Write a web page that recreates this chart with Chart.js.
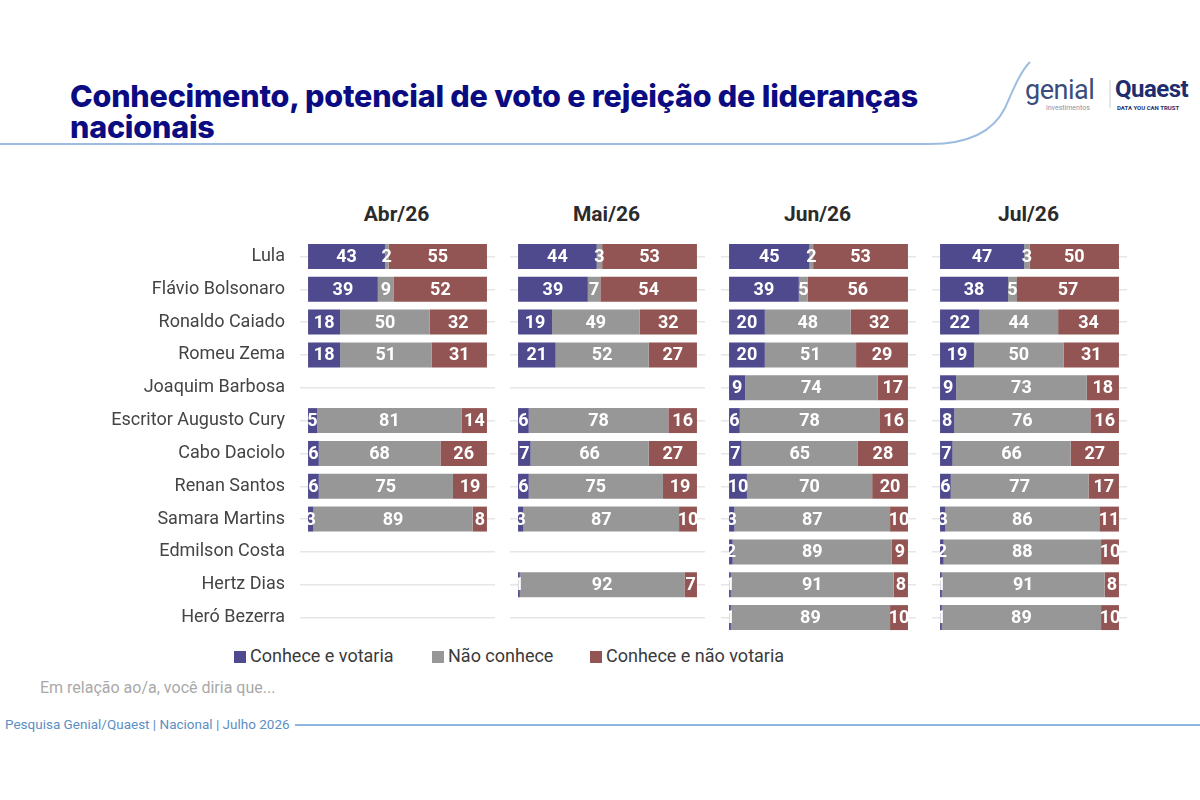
<!DOCTYPE html>
<html lang="pt-BR">
<head>
<meta charset="utf-8">
<title>Conhecimento, potencial de voto e rejeição de lideranças nacionais</title>
<script src="https://cdn.jsdelivr.net/npm/chart.js@4.4.1/dist/chart.umd.min.js"></script>
<style>
  html, body { margin: 0; padding: 0; background: #fff; }
  #page { position: relative; width: 1200px; height: 800px; overflow: hidden; font-family: Roboto, "Noto Sans", sans-serif; }
  .abs { position: absolute; }
  #title { left: 70px; top: 80px; width: 900px; font-family: Inter, Roboto, sans-serif; font-weight: 800; font-size: 30.5px; line-height: 31px; color: #0b0b82; letter-spacing: -0.2px; }
  .month { top: 202px; width: 195px; text-align: center; font-weight: 700; font-size: 21px; color: #2b2b2b; }
  #legend { left: 234px; top: 645px; font-size: 18px; color: #3a3a3a; }
  .leg { position: absolute; white-space: nowrap; }
  .leg i { display: inline-block; width: 12px; height: 12px; margin-right: 4px; vertical-align: -1px; }
  #note { left: 40px; top: 678px; font-size: 16px; color: #a9a9a9; }
  #footer { left: 5px; top: 716px; font-size: 13.5px; color: #5c8fc4; }
  canvas { position: absolute; }
  #logo1 { left: 1025px; top: 74px; font-size: 27px; color: #3b4d7c; letter-spacing: -0.5px; }
  #logo1s { left: 1046px; top: 104px; font-size: 7px; color: #8a93aa; }
  #logo2 { left: 1115px; top: 75px; font-size: 24px; font-weight: 700; color: #1d2d6e; letter-spacing: -0.5px; }
  #logo2s { left: 1117px; top: 104px; font-size: 6px; font-weight: 700; color: #1d2d6e; }
</style>
</head>
<body>
<div id="page">
  <svg class="abs" style="left:0;top:0" width="1200" height="800">
    <path d="M0,144 L930,144 C975,144 995,128 1005,108 C1013,90 1020,72 1030,62" fill="none" stroke="#9dbde0" stroke-width="2"/>
    <line x1="1110" y1="80" x2="1110" y2="108" stroke="#c8cbd6" stroke-width="1"/>
    <line x1="295" y1="725" x2="1200" y2="725" stroke="#8fb6e2" stroke-width="2"/>
  </svg>
  <div id="title" class="abs">Conhecimento, potencial de voto e rejeição de lideranças nacionais</div>
  <div id="logo1" class="abs">genial</div>
  <div id="logo1s" class="abs">investimentos</div>
  <div id="logo2" class="abs">Quaest</div>
  <div id="logo2s" class="abs">DATA YOU CAN TRUST</div>
  <div id="months"></div>
  <div id="charts"></div>
  <div id="legend" class="abs"></div>
  <div id="note" class="abs">Em relação ao/a, você diria que...</div>
  <div id="footer" class="abs">Pesquisa Genial/Quaest | Nacional | Julho 2026</div>
</div>
<script>
const categories = ["Lula", "Flávio Bolsonaro", "Ronaldo Caiado", "Romeu Zema", "Joaquim Barbosa",
    "Escritor Augusto Cury", "Cabo Daciolo", "Renan Santos", "Samara Martins", "Edmilson Costa",
    "Hertz Dias", "Heró Bezerra"];
const months = ["Abr/26", "Mai/26", "Jun/26", "Jul/26"];
const seriesNames = ["Conhece e votaria", "Não conhece", "Conhece e não votaria"];
const seriesColors = ["#4f4a8d", "#979797", "#935553"];

const abrVotaria    = [43, 39, 18, 18, null, 5, 6, 6, 3, null, null, null];
const abrNaoConhece = [2, 9, 50, 51, null, 81, 68, 75, 89, null, null, null];
const abrNaoVotaria = [55, 52, 32, 31, null, 14, 26, 19, 8, null, null, null];

const maiVotaria    = [44, 39, 19, 21, null, 6, 7, 6, 3, null, 1, null];
const maiNaoConhece = [3, 7, 49, 52, null, 78, 66, 75, 87, null, 92, null];
const maiNaoVotaria = [53, 54, 32, 27, null, 16, 27, 19, 10, null, 7, null];

const junVotaria    = [45, 39, 20, 20, 9, 6, 7, 10, 3, 2, 1, 1];
const junNaoConhece = [2, 5, 48, 51, 74, 78, 65, 70, 87, 89, 91, 89];
const junNaoVotaria = [53, 56, 32, 29, 17, 16, 28, 20, 10, 9, 8, 10];

const julVotaria    = [47, 38, 22, 19, 9, 8, 7, 6, 3, 2, 1, 1];
const julNaoConhece = [3, 5, 44, 50, 73, 76, 66, 77, 86, 88, 91, 89];
const julNaoVotaria = [50, 57, 34, 31, 18, 16, 27, 17, 11, 10, 8, 10];

const panels = [
    [abrVotaria, abrNaoConhece, abrNaoVotaria],
    [maiVotaria, maiNaoConhece, maiNaoVotaria],
    [junVotaria, junNaoConhece, junNaoVotaria],
    [julVotaria, julNaoConhece, julNaoVotaria]
];

// left edge of each plot area
const plotLeft = [300, 510, 721, 932];
const plotWidth = 195;
const labelWidth = 300;

// white numbers in the middle of each segment
const valueLabels = {
    id: 'valueLabels',
    afterDatasetsDraw(chart) {
        const ctx = chart.ctx;
        const x = chart.scales.x;
        const a = chart.chartArea;
        ctx.save();
        ctx.beginPath();
        ctx.rect(x.getPixelForValue(0), a.top, x.getPixelForValue(100) - x.getPixelForValue(0) + 1, a.bottom - a.top);
        ctx.clip();
        ctx.font = 'bold 18px Roboto';
        ctx.fillStyle = '#ffffff';
        ctx.textAlign = 'center';
        ctx.textBaseline = 'middle';
        chart.data.datasets.forEach(function(ds, i) {
            chart.getDatasetMeta(i).data.forEach(function(bar, j) {
                const v = ds.data[j];
                if (v === null || v === undefined) return;
                ctx.fillText(String(v), (bar.x + bar.base) / 2, bar.y + 1);
            });
        });
        ctx.restore();
    }
};

const monthsBox = document.getElementById("months");
const chartsBox = document.getElementById("charts");

panels.forEach(function(p, k) {
    const first = k === 0;
    const m = document.createElement("div");
    m.className = "abs month";
    m.style.left = (plotLeft[k] - 1) + "px";
    m.textContent = months[k];
    monthsBox.appendChild(m);

    const cv = document.createElement("canvas");
    const left = first ? plotLeft[k] - labelWidth : plotLeft[k];
    const w = first ? plotWidth + labelWidth : plotWidth;
    cv.width = w;
    cv.height = 394;
    cv.style.left = left + "px";
    cv.style.top = "240px";
    chartsBox.appendChild(cv);

    new Chart(cv, {
        type: 'bar',
        data: {
            labels: categories,
            datasets: p.map(function(vals, i) {
                return {
                    label: seriesNames[i],
                    data: vals,
                    backgroundColor: seriesColors[i],
                    borderWidth: 0,
                    categoryPercentage: 1,
                    barPercentage: 0.76
                };
            })
        },
        options: {
            indexAxis: 'y',
            responsive: false,
            animation: false,
            layout: { padding: 0 },
            plugins: {
                legend: { display: false },
                tooltip: { enabled: false }
            },
            scales: {
                x: {
                    stacked: true,
                    display: false,
                    min: -4.5,
                    max: 104.5
                },
                y: {
                    stacked: true,
                    afterFit: function(scale) {
                        scale.width = first ? labelWidth : 0;
                        scale.paddingTop = 0;
                        scale.paddingBottom = 0;
                    },
                    grid: { offset: false, color: '#e6e6e6', lineWidth: 1.5, drawTicks: false },
                    border: { display: false },
                    ticks: {
                        display: first,
                        padding: 15,
                        color: '#444444',
                        font: { family: 'Roboto', size: 18 }
                    }
                }
            }
        },
        plugins: [valueLabels]
    });
});

const legendBox = document.getElementById("legend");
const legendX = [0, 198, 356];
seriesNames.forEach(function(name, i) {
    const d = document.createElement("div");
    d.className = "leg";
    d.style.left = legendX[i] + "px";
    d.innerHTML = '<i style="background:' + seriesColors[i] + '"></i>' + name;
    legendBox.appendChild(d);
});
</script>
</body>
</html>
